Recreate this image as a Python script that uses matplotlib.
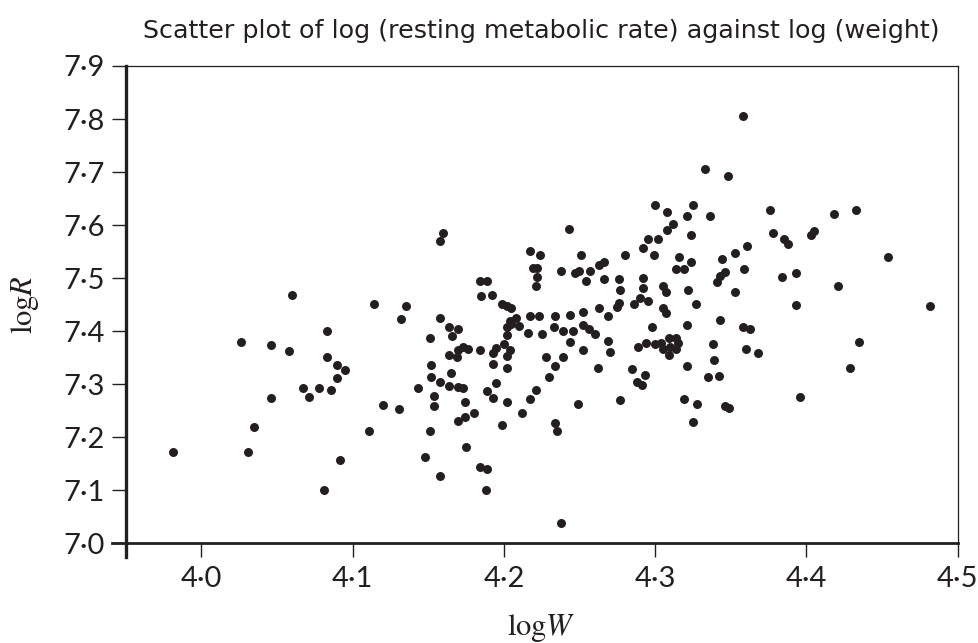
import matplotlib
matplotlib.use("Agg")
import matplotlib.pyplot as plt

# log(weight) and log(resting metabolic rate)
log_w = [
    3.981, 4.026, 4.031, 4.035, 4.046, 4.046, 4.058, 4.060, 4.067, 4.071,
    4.078, 4.081, 4.083, 4.083, 4.086, 4.090, 4.090, 4.095, 4.092, 4.111,
    4.114, 4.120, 4.131, 4.132, 4.135, 4.143, 4.148, 4.151, 4.151, 4.152,
    4.152, 4.154, 4.154, 4.158, 4.160, 4.158, 4.158, 4.158, 4.164, 4.166,
    4.170, 4.173, 4.170, 4.176, 4.169, 4.164, 4.184, 4.165, 4.164, 4.170,
    4.173, 4.174, 4.180, 4.174, 4.170, 4.175, 4.184, 4.189, 4.188, 4.184,
    4.189, 4.185, 4.192, 4.199, 4.202, 4.205, 4.204, 4.208, 4.202, 4.205,
    4.210, 4.202, 4.216, 4.199, 4.189, 4.195, 4.193, 4.202, 4.212, 4.217,
    4.221, 4.193, 4.193, 4.195, 4.200, 4.204, 4.202, 4.202, 4.217, 4.224,
    4.219, 4.222, 4.222, 4.221, 4.217, 4.223, 4.225, 4.234, 4.233, 4.239,
    4.244, 4.246, 4.244, 4.252, 4.252, 4.256, 4.260, 4.252, 4.228, 4.239,
    4.234, 4.230, 4.249, 4.234, 4.235, 4.238, 4.243, 4.251, 4.238, 4.247,
    4.250, 4.257, 4.254, 4.263, 4.266, 4.266, 4.276, 4.277, 4.280, 4.292,
    4.292, 4.292, 4.290, 4.295, 4.286, 4.276, 4.275, 4.269, 4.263, 4.269,
    4.270, 4.262, 4.277, 4.295, 4.302, 4.299, 4.300, 4.308, 4.312, 4.308,
    4.321, 4.325, 4.324, 4.316, 4.324, 4.314, 4.319, 4.305, 4.307, 4.322,
    4.327, 4.305, 4.307, 4.298, 4.289, 4.294, 4.300, 4.304, 4.305, 4.309,
    4.309, 4.314, 4.315, 4.314, 4.310, 4.285, 4.293, 4.288, 4.291, 4.321,
    4.321, 4.319, 4.328, 4.325, 4.358, 4.333, 4.348, 4.336, 4.376, 4.378,
    4.385, 4.388, 4.403, 4.405, 4.418, 4.433, 4.361, 4.353, 4.344, 4.346,
    4.343, 4.341, 4.359, 4.353, 4.343, 4.384, 4.393, 4.393, 4.421, 4.454,
    4.482, 4.358, 4.363, 4.338, 4.360, 4.368, 4.339, 4.335, 4.342, 4.435,
    4.429, 4.396, 4.346, 4.349,
]
log_r = [
    7.173, 7.380, 7.173, 7.219, 7.374, 7.274, 7.363, 7.468, 7.293, 7.275,
    7.293, 7.100, 7.400, 7.351, 7.289, 7.311, 7.336, 7.327, 7.157, 7.212,
    7.452, 7.261, 7.254, 7.423, 7.447, 7.292, 7.163, 7.387, 7.212, 7.336,
    7.314, 7.278, 7.258, 7.570, 7.586, 7.425, 7.304, 7.127, 7.408, 7.390,
    7.404, 7.371, 7.365, 7.366, 7.351, 7.355, 7.365, 7.322, 7.297, 7.295,
    7.293, 7.266, 7.246, 7.239, 7.231, 7.181, 7.143, 7.140, 7.100, 7.495,
    7.495, 7.466, 7.469, 7.451, 7.447, 7.443, 7.420, 7.424, 7.407, 7.413,
    7.410, 7.393, 7.397, 7.223, 7.287, 7.302, 7.274, 7.266, 7.246, 7.273,
    7.289, 7.339, 7.358, 7.369, 7.375, 7.365, 7.353, 7.331, 7.551, 7.544,
    7.520, 7.519, 7.502, 7.486, 7.429, 7.429, 7.394, 7.429, 7.408, 7.400,
    7.430, 7.400, 7.379, 7.436, 7.412, 7.404, 7.394, 7.365, 7.351, 7.351,
    7.334, 7.314, 7.262, 7.226, 7.212, 7.039, 7.593, 7.544, 7.513, 7.510,
    7.513, 7.513, 7.495, 7.525, 7.531, 7.498, 7.498, 7.478, 7.544, 7.557,
    7.500, 7.481, 7.463, 7.457, 7.451, 7.454, 7.445, 7.429, 7.443, 7.382,
    7.361, 7.331, 7.270, 7.574, 7.574, 7.544, 7.637, 7.625, 7.602, 7.590,
    7.617, 7.637, 7.581, 7.539, 7.531, 7.517, 7.517, 7.486, 7.473, 7.478,
    7.452, 7.443, 7.435, 7.407, 7.371, 7.378, 7.375, 7.378, 7.366, 7.388,
    7.355, 7.387, 7.377, 7.366, 7.371, 7.328, 7.317, 7.304, 7.299, 7.412,
    7.335, 7.272, 7.262, 7.229, 7.806, 7.706, 7.693, 7.617, 7.629, 7.586,
    7.574, 7.564, 7.581, 7.589, 7.620, 7.629, 7.561, 7.548, 7.536, 7.512,
    7.504, 7.493, 7.517, 7.474, 7.421, 7.502, 7.509, 7.450, 7.486, 7.540,
    7.447, 7.408, 7.404, 7.375, 7.367, 7.358, 7.346, 7.313, 7.315, 7.380,
    7.331, 7.275, 7.259, 7.255,
]

x_ticks = [4.0, 4.1, 4.2, 4.3, 4.4, 4.5]
y_ticks = [7.0, 7.1, 7.2, 7.3, 7.4, 7.5, 7.6, 7.7, 7.8, 7.9]

ink = "#231f20"
plt.rcParams["mathtext.fontset"] = "stix"

fig = plt.figure(figsize=(9.79, 6.43), dpi=100)
ax = fig.add_axes([0.1284, 0.1550, 0.8498, 0.7424])

ax.scatter(log_w, log_r, s=42, color=ink, linewidths=0, zorder=3)

ax.set_xlim(3.95, 4.5)
ax.set_ylim(7.0, 7.9)

ax.set_xticks(x_ticks)
ax.set_yticks(y_ticks)
ax.set_xticklabels([f"{t:.1f}".replace(".", "\u00b7") for t in x_ticks])
ax.set_yticklabels([f"{t:.1f}".replace(".", "\u00b7") for t in y_ticks])
ax.tick_params(direction="out", length=10, width=1.0, color=ink,
               labelsize=21, labelcolor=ink)
ax.tick_params(axis="x", pad=6)
ax.tick_params(axis="y", pad=5)
for lab in ax.get_xticklabels() + ax.get_yticklabels():
    lab.set_family("Lato")

# heavy left/bottom axes, thin frame on top/right
ax.spines["left"].set_linewidth(2.4)
ax.spines["bottom"].set_linewidth(2.0)
ax.spines["top"].set_linewidth(0.9)
ax.spines["right"].set_linewidth(0.9)
for sp in ax.spines.values():
    sp.set_color(ink)
ax.spines["left"].set_bounds(6.974, 7.9)
ax.spines["bottom"].set_bounds(3.941, 4.5)

ax.set_xlabel(r"$\mathrm{log}W$", fontsize=22, color=ink, labelpad=15)
ax.set_ylabel(r"$\mathrm{log}R$", fontsize=22, color=ink, labelpad=16)
ax.set_title("Scatter plot of log (resting metabolic rate) against log (weight)",
             fontsize=18.3, color=ink, pad=20)

fig.savefig("out.png", dpi=100)
